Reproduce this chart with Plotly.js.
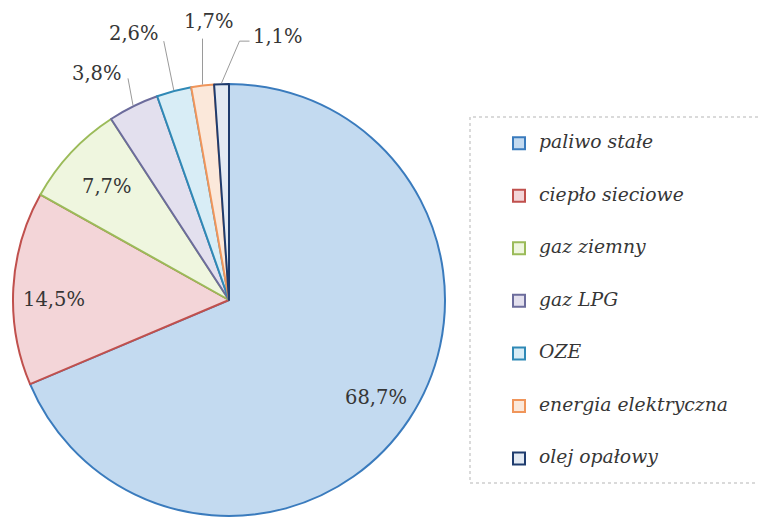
<!DOCTYPE html>
<html>
<head>
<meta charset="utf-8">
<script src="https://cdn.plot.ly/plotly-3.0.1.min.js"></script>
<style>html,body{margin:0;padding:0;background:#fff}</style>
</head>
<body>
<div id="chart" style="width:758px;height:519px"></div>
<script>
// data
var labels = ["paliwo stałe", "ciepło sieciowe", "gaz ziemny", "gaz LPG", "OZE", "energia elektryczna", "olej opałowy"]
var shares = [68.7, 14.5, 7.7, 3.8, 2.6, 1.7, 1.1]

// styles
var fills = ["#c3daf0", "#f3d5d8", "#eff6df", "#e3e0ee", "#d8edf6", "#fbe8da", "#e3eaf3"]
var edges = ["#3a7bbd", "#c0504d", "#9bbb59", "#6c6c9c", "#2f89b6", "#f0955a", "#1f3c6e"]
var txtColor = "#363636"
var serif = "DejaVu Serif"

// layout in px
var W = 758, H = 519
var CX = 229, CY = 300, R = 216
// inside labels: fraction of radius + small pixel nudge
var insideR = [0.815, 0.81, 0.77]
var insideNudge = [[0, 0], [0, 9], [0, 0]]
// outside labels: text offset from the slice edge, leader points (offsets from edge)
var outText = [[-36, -32], [-40, -57], [6, -63], [56, -47]]
var outLeader = [[[-5, -27]], [[-10, -49]], [[0, -46]], [[18, -42], [28, -42]]]

function px(x) { return x / W }
function py(y) { return 1 - y / H }
function pct(v) { return v.toFixed(1).replace(".", ",") + "%" }

var total = shares.reduce(function (a, b) { return a + b }, 0)

var annotations = []
var shapes = []
var cum = 0
shares.forEach(function (v, i) {
  var a = 2 * Math.PI * (cum + v / 2) / total
  cum += v
  var ux = Math.sin(a), uy = -Math.cos(a)
  var font = {family: serif, size: 19.5, color: txtColor}
  var tx, ty
  if (i < insideR.length) {
    tx = CX + ux * R * insideR[i] + insideNudge[i][0]
    ty = CY + uy * R * insideR[i] + insideNudge[i][1]
  } else {
    var k = i - insideR.length
    var ex = CX + ux * (R + 1), ey = CY + uy * (R + 1)
    tx = ex + outText[k][0]
    ty = ey + outText[k][1]
    var path = "M" + px(ex) + "," + py(ey)
    outLeader[k].forEach(function (p) {
      path += " L" + px(ex + p[0]) + "," + py(ey + p[1])
    })
    shapes.push({type: "path", xref: "paper", yref: "paper", path: path,
      line: {color: "#9a9a9a", width: 1}})
  }
  annotations.push({
    x: px(tx), y: py(ty), xref: "paper", yref: "paper",
    xanchor: "center", yanchor: "middle",
    text: pct(v), showarrow: false, font: font
  })
})

// legend frame
shapes.push({type: "rect", xref: "paper", yref: "paper", layer: "below",
  x0: px(470), x1: px(770), y0: py(483), y1: py(117),
  line: {color: "#b5b5b5", width: 1, dash: "dot"}})

// taller legend rows: blank line above and below the label
var legendLabels = labels.map(function (l) {
  return "\u00a0<br><span style=\"font-size:18.8px\">" + l + "</span><br>\u00a0"
})

var data = [{
  type: "pie",
  labels: legendLabels,
  values: shares,
  sort: false,
  direction: "clockwise",
  rotation: 0,
  textinfo: "none",
  hoverinfo: "none",
  marker: {colors: fills, line: {color: edges, width: 2}},
  domain: {x: [px(CX - R), px(CX + R)], y: [py(CY + R), py(CY - R)]}
}]

var layout = {
  width: W, height: H,
  margin: {l: 0, r: 0, t: 0, b: 0},
  paper_bgcolor: "#fff",
  showlegend: true,
  legend: {
    x: px(499), xanchor: "left", y: py(112), yanchor: "top",
    bgcolor: "rgba(0,0,0,0)", borderwidth: 0,
    font: {family: serif, size: 12.7, color: txtColor, style: "italic"}
  },
  annotations: annotations,
  shapes: shapes
}

Plotly.newPlot("chart", data, layout, {staticPlot: true})
</script>
</body>
</html>
